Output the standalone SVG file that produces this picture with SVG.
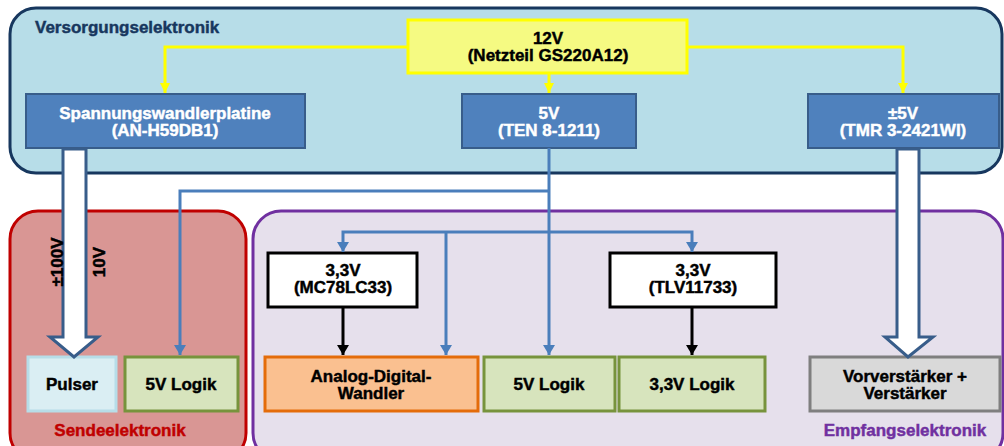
<svg xmlns="http://www.w3.org/2000/svg" width="1004" height="446" viewBox="0 0 1004 446">
<style>
text{font-family:"Liberation Sans",Arial,sans-serif;font-weight:bold;font-size:17px;text-anchor:middle;stroke-width:0.45px}
.w{fill:#ffffff;stroke:#ffffff}
.k{fill:#000000;stroke:#000000}
.blue{fill:#4F81BD;stroke:#385D8A;stroke-width:2}
.blk{fill:#ffffff;stroke:#000000;stroke-width:3}
.grn{fill:#D7E4BD;stroke:#77933C;stroke-width:3}
.yl{fill:none;stroke:#FFFF00;stroke-width:3}
.bl{fill:none;stroke:#4A7EBB;stroke-width:3}
.bk{fill:none;stroke:#000000;stroke-width:3}
.big{fill:#ffffff;stroke:#385D8A;stroke-width:3;stroke-linejoin:miter}
</style>
<defs>
<marker id="ay" markerUnits="userSpaceOnUse" markerWidth="12" markerHeight="10" refX="10" refY="5" orient="auto"><path d="M0,0 L10,5 L0,10 Z" fill="#FFFF00"/></marker>
<marker id="ab" markerUnits="userSpaceOnUse" markerWidth="12" markerHeight="12" refX="10" refY="6" orient="auto"><path d="M0,0 L10,6 L0,12 Z" fill="#4A7EBB"/></marker>
<marker id="ak" markerUnits="userSpaceOnUse" markerWidth="12" markerHeight="12" refX="10" refY="6" orient="auto"><path d="M0,0 L10,6 L0,12 Z" fill="#000000"/></marker>
</defs>

<g id="versorgung">
<rect x="10" y="8" width="992" height="165" rx="26" fill="#B7DDE8" stroke="#17375E" stroke-width="3"/>
<text x="35" y="33" style="text-anchor:start" fill="#17375E" stroke="#17375E">Versorgungselektronik</text>
</g>
<g id="sende">
<rect x="10" y="211" width="236" height="250" rx="28" fill="#D99694" stroke="#C00000" stroke-width="3"/>
<text x="120" y="436" fill="#C00000" stroke="#C00000">Sendeelektronik</text>
</g>
<g id="empfang">
<rect x="253" y="211" width="750" height="250" rx="28" fill="#E6E0EC" stroke="#7030A0" stroke-width="3"/>
<text x="905" y="436" fill="#7030A0" stroke="#7030A0">Empfangselektronik</text>
</g>

<g id="netzteil">
<rect x="408" y="20" width="279" height="53" fill="#F5FA82" stroke="#FFFF00" stroke-width="3"/>
<text class="k" x="548" y="44">12V</text>
<text class="k" x="548" y="61">(Netzteil GS220A12)</text>
</g>
<g id="spannungswandler">
<rect class="blue" x="26" y="94" width="279" height="54"/>
<text class="w" x="165" y="119">Spannungswandlerplatine</text>
<text class="w" x="165" y="136">(AN-H59DB1)</text>
</g>
<g id="ten">
<rect class="blue" x="462" y="94" width="174" height="54"/>
<text class="w" x="549" y="119">5V</text>
<text class="w" x="549" y="136">(TEN 8-1211)</text>
</g>
<g id="tmr">
<rect class="blue" x="808" y="94" width="191" height="54"/>
<text class="w" x="903" y="119">±5V</text>
<text class="w" x="903" y="136">(TMR 3-2421WI)</text>
</g>
<g id="mc78">
<rect class="blk" x="268" y="253" width="149" height="54"/>
<text class="k" x="343" y="276">3,3V</text>
<text class="k" x="343" y="293">(MC78LC33)</text>
</g>
<g id="tlv">
<rect class="blk" x="610" y="253" width="166" height="54"/>
<text class="k" x="693" y="276">3,3V</text>
<text class="k" x="693" y="293">(TLV11733)</text>
</g>
<g id="pulser">
<rect x="28" y="357" width="88" height="54" fill="#DAEEF3" stroke="#B7DDE8" stroke-width="3"/>
<text class="k" x="72" y="390">Pulser</text>
</g>
<g id="logik5a">
<rect class="grn" x="125" y="357" width="113" height="54"/>
<text class="k" x="181" y="390">5V Logik</text>
</g>
<g id="adc">
<rect x="265" y="357" width="213" height="54" fill="#FAC090" stroke="#E46C0A" stroke-width="3"/>
<text class="k" x="371" y="382">Analog-Digital-</text>
<text class="k" x="371" y="399">Wandler</text>
</g>
<g id="logik5b">
<rect class="grn" x="484" y="357" width="131" height="54"/>
<text class="k" x="549" y="390">5V Logik</text>
</g>
<g id="logik33">
<rect class="grn" x="619" y="357" width="146" height="54"/>
<text class="k" x="692" y="390">3,3V Logik</text>
</g>
<g id="verstaerker">
<rect x="810" y="357" width="190" height="54" fill="#D9D9D9" stroke="#7F7F7F" stroke-width="3"/>
<text class="k" x="905" y="382">Vorverstärker +</text>
<text class="k" x="905" y="399">Verstärker</text>
</g>

<g id="connectors">
<path class="yl" d="M408,47 H165 V93" marker-end="url(#ay)"/>
<path class="yl" d="M549,73 V93" marker-end="url(#ay)"/>
<path class="yl" d="M687,47 H903 V93" marker-end="url(#ay)"/>
<path class="bl" d="M549,148 V355" marker-end="url(#ab)"/>
<path class="bl" d="M549,191 H180 V355" marker-end="url(#ab)"/>
<path class="bl" d="M549,232 H343 V252" marker-end="url(#ab)"/>
<path class="bl" d="M549,232 H692 V252" marker-end="url(#ab)"/>
<path class="bl" d="M446,232 V355" marker-end="url(#ab)"/>
<path class="bk" d="M343,307 V355" marker-end="url(#ak)"/>
<path class="bk" d="M692,307 V355" marker-end="url(#ak)"/>
<path class="big" d="M63,149 H86 V337 H98 L74,357 L50,337 H63 Z"/>
<path class="big" d="M897,149 H919 V337 H933 L908,357 L885,337 H897 Z"/>
<text class="k" transform="translate(63,262) rotate(-90)">±100V</text>
<text class="k" transform="translate(105,262) rotate(-90)">10V</text>
</g>
</svg>
